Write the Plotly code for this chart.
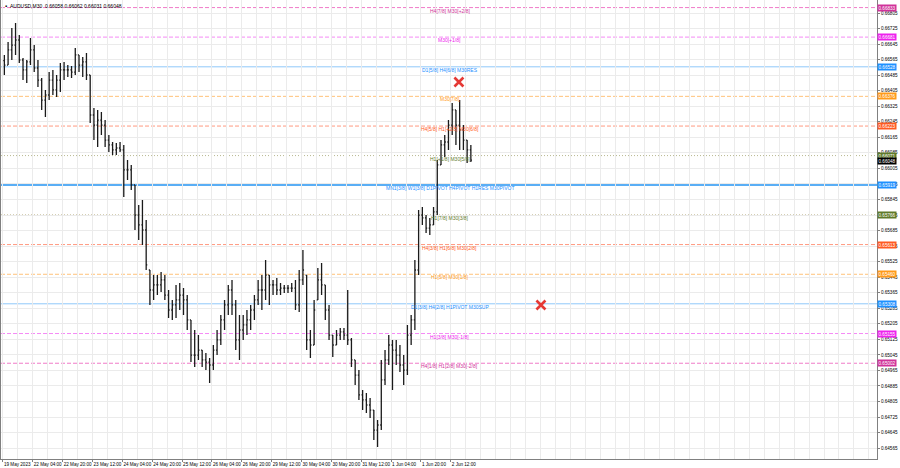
import plotly.graph_objects as go

# ---------------- data ----------------
# 2-hour buckets of AUDUSD M30 price, starting 19 May 2023 12:00 (4 M30 bars per bucket)
high = [0.66589, 0.66656, 0.66728, 0.66754, 0.66692, 0.66573, 0.66563, 0.66676, 0.66640, 0.66563,
        0.66470, 0.66409, 0.66501, 0.66512, 0.66486, 0.66548, 0.66553, 0.66537, 0.66532, 0.66625,
        0.66589, 0.66579, 0.66599, 0.66486, 0.66316, 0.66306, 0.66295, 0.66254, 0.66177, 0.66141,
        0.66136, 0.66141, 0.66126, 0.66048, 0.66023, 0.65920, 0.65817, 0.65842, 0.65739, 0.65482,
        0.65456, 0.65456, 0.65472, 0.65456, 0.65379, 0.65328, 0.65405, 0.65415, 0.65389, 0.65353,
        0.65225, 0.65173, 0.65147, 0.65070, 0.65055, 0.65029, 0.65096, 0.65173, 0.65250, 0.65328,
        0.65405, 0.65431, 0.65328, 0.65250, 0.65250, 0.65276, 0.65302, 0.65353, 0.65431, 0.65456,
        0.65534, 0.65456, 0.65431, 0.65441, 0.65415, 0.65405, 0.65405, 0.65415, 0.65431, 0.65482,
        0.65585, 0.65456, 0.65173, 0.65328, 0.65492, 0.65518, 0.65405, 0.65302, 0.65147, 0.65173,
        0.65183, 0.65183, 0.65379, 0.65132, 0.65019, 0.64967, 0.64864, 0.64849, 0.64823, 0.64761,
        0.64710, 0.65019, 0.65070, 0.65147, 0.65122, 0.65122, 0.65096, 0.65044, 0.65199, 0.65250,
        0.65534, 0.65791, 0.65806, 0.65765, 0.65750, 0.65806, 0.66048, 0.66151, 0.66177, 0.66254,
        0.66342, 0.66306, 0.66357, 0.66228, 0.66151, 0.66126]
low = [0.66486, 0.66537, 0.66563, 0.66589, 0.66548, 0.66460, 0.66445, 0.66537, 0.66501, 0.66424,
       0.66306, 0.66270, 0.66357, 0.66383, 0.66373, 0.66398, 0.66460, 0.66476, 0.66470, 0.66486,
       0.66501, 0.66476, 0.66460, 0.66239, 0.66151, 0.66115, 0.66177, 0.66115, 0.66090, 0.66074,
       0.66074, 0.66090, 0.65858, 0.65945, 0.65894, 0.65688, 0.65636, 0.65611, 0.65482, 0.65302,
       0.65328, 0.65353, 0.65369, 0.65328, 0.65235, 0.65225, 0.65235, 0.65276, 0.65250, 0.65173,
       0.65008, 0.64983, 0.65019, 0.64983, 0.64967, 0.64900, 0.64967, 0.65044, 0.65096, 0.65173,
       0.65250, 0.65250, 0.65070, 0.65019, 0.65122, 0.65147, 0.65173, 0.65225, 0.65302, 0.65276,
       0.65328, 0.65302, 0.65353, 0.65353, 0.65353, 0.65364, 0.65364, 0.65369, 0.65276, 0.65266,
       0.65405, 0.65070, 0.65029, 0.65096, 0.65328, 0.65353, 0.65225, 0.65122, 0.65034, 0.65096,
       0.65122, 0.65122, 0.65096, 0.64983, 0.64890, 0.64813, 0.64761, 0.64746, 0.64720, 0.64607,
       0.64571, 0.64658, 0.64890, 0.64993, 0.64864, 0.64993, 0.64957, 0.64890, 0.64941, 0.65096,
       0.65173, 0.65456, 0.65714, 0.65673, 0.65662, 0.65714, 0.65765, 0.66023, 0.66064, 0.66100,
       0.66177, 0.66126, 0.66100, 0.66100, 0.66033, 0.66038]
close = [0.66537, 0.66615, 0.66640, 0.66666, 0.66563, 0.66512, 0.66553, 0.66615, 0.66522, 0.66460,
         0.66357, 0.66383, 0.66460, 0.66409, 0.66460, 0.66512, 0.66512, 0.66512, 0.66501, 0.66589,
         0.66537, 0.66553, 0.66486, 0.66280, 0.66228, 0.66254, 0.66228, 0.66151, 0.66126, 0.66100,
         0.66110, 0.66100, 0.65997, 0.65997, 0.65920, 0.65765, 0.65714, 0.65688, 0.65508, 0.65379,
         0.65405, 0.65405, 0.65431, 0.65353, 0.65276, 0.65302, 0.65328, 0.65353, 0.65328, 0.65225,
         0.65044, 0.65044, 0.65070, 0.65019, 0.65008, 0.64993, 0.65070, 0.65122, 0.65225, 0.65302,
         0.65379, 0.65302, 0.65122, 0.65173, 0.65199, 0.65225, 0.65276, 0.65328, 0.65379, 0.65379,
         0.65456, 0.65405, 0.65405, 0.65379, 0.65389, 0.65389, 0.65389, 0.65389, 0.65302, 0.65431,
         0.65482, 0.65122, 0.65096, 0.65276, 0.65431, 0.65405, 0.65276, 0.65147, 0.65096, 0.65147,
         0.65163, 0.65147, 0.65122, 0.65019, 0.64941, 0.64839, 0.64813, 0.64787, 0.64761, 0.64658,
         0.64684, 0.64916, 0.65019, 0.65096, 0.65070, 0.65044, 0.64993, 0.64967, 0.65147, 0.65225,
         0.65482, 0.65765, 0.65750, 0.65698, 0.65714, 0.65781, 0.66023, 0.66126, 0.66141, 0.66228,
         0.66306, 0.66228, 0.66203, 0.66151, 0.66100, 0.66048]
first_open = 0.66560

# x-axis time labels (every 32 M30 bars)
time_labels = ["19 May 2023", "22 May 04:00", "22 May 20:00", "23 May 12:00", "24 May 04:00",
               "24 May 20:00", "25 May 12:00", "26 May 04:00", "26 May 20:00", "29 May 12:00",
               "30 May 04:00", "30 May 20:00", "31 May 12:00", "1 Jun 04:00", "1 Jun 20:00",
               "2 Jun 12:00"]
price_ticks = [0.66805, 0.66725, 0.66645, 0.66565, 0.66485, 0.66405, 0.66325, 0.66245, 0.66165,
               0.66085, 0.66005, 0.65925, 0.65845, 0.65765, 0.65685, 0.65605, 0.65525, 0.65445,
               0.65365, 0.65285, 0.65205, 0.65125, 0.65045, 0.64965, 0.64885, 0.64805, 0.64725,
               0.64645, 0.64565]

# Murrey-style level lines
level_values = [0.66833, 0.66681, 0.66528, 0.66376, 0.66223, 0.66071, 0.65919, 0.65766,
                0.65613, 0.65460, 0.65308, 0.65155, 0.65002]
level_names = ["H4[7/8] M30[+2/8]", "M30[+1/8]", "D1[5/8] H4[6/8] M30RES", "M30[7/8]",
               "H4[5/8] H1[+2/8] M30[6/8]", "H1[+1/8] M30[5/8]",
               "MN1[3/8] W1[3/8] D1PIVOT H4PIVOT H1RES M30PIVOT", "H1[7/8] M30[3/8]",
               "H4[3/8] H1[6/8] M30[2/8]", "H1[5/8] M30[1/8]", "D1[3/8] H4[2/8] H1PIVOT M30SUP",
               "H1[3/8] M30[-1/8]", "H4[1/8] H1[2/8] M30[-2/8]"]
level_colors = ["#d0329a", "#ee22ee", "#1e90ff", "#ff9a1a", "#ff5a22", "#5f7a2a", "#1e90ff",
                "#5f7a2a", "#ff5a22", "#ff9a1a", "#1e90ff", "#ee22ee", "#d0329a"]
level_line_colors = ["#f07ac8", "#f58af5", "#8fc8fa", "#ffc27a", "#ff9a80", "#b8b890", "#5aaef5",
                     "#c0b890", "#ff9a80", "#ffc27a", "#8fc8fa", "#f58af5", "#f07ac8"]
level_dash = ["4px,2px", "4px,2px", "solid", "4px,2px", "4px,2px", "1px,2px", "solid",
              "1px,2px", "4px,2px", "4px,2px", "solid", "4px,2px", "4px,2px"]
level_width = [1, 1, 1, 1, 1, 1, 2, 1, 1, 1, 1, 1, 1]

current_price = 0.66048
title_text = "AUDUSD,M30  0.66058 0.66062 0.66031 0.66048"

# red cross marks (bar index, price)
cross_x = [488.7, 576.6]
cross_y = [0.66450, 0.65302]

# ---------------- figure ----------------
BARS_PER_BUCKET = 4
n = len(close)
xb = [i * BARS_PER_BUCKET + 1.5 for i in range(n)]
opens = [first_open] + close[:-1]
opens = [min(max(o, lo), hi) for o, lo, hi in zip(opens, low, high)]

fig = go.Figure()
fig.add_trace(go.Ohlc(x=xb, open=opens, high=high, low=low, close=close,
                      increasing=dict(line=dict(color="#1a1a1a", width=1.3)),
                      decreasing=dict(line=dict(color="#1a1a1a", width=1.3)),
                      tickwidth=0.3, hoverinfo="skip", showlegend=False))

for v, c, d, w in zip(level_values, level_line_colors, level_dash, level_width):
    fig.add_hline(y=v, line=dict(color=c, dash=d, width=w), layer="below")

label_x = 479
for v, name, c in zip(level_values, level_names, level_colors):
    fig.add_annotation(x=label_x, y=v, text=name, showarrow=False, xanchor="center",
                       yanchor="middle", yshift=-3, font=dict(size=5, color=c, family="Arial"))
    fig.add_annotation(xref="paper", x=1, y=v, text=f"{v:.5f}", showarrow=False,
                       xanchor="left", yanchor="middle", bgcolor=c, borderpad=0.5,
                       font=dict(size=4.6, color="white", family="Arial"))

fig.add_annotation(xref="paper", x=1, y=current_price, text=f"{current_price:.5f}",
                   showarrow=False, xanchor="left", yanchor="middle", yshift=-1,
                   bgcolor="#000000", borderpad=0.5,
                   font=dict(size=4.6, color="white", family="Arial"))

fig.add_trace(go.Scatter(x=cross_x, y=cross_y, mode="markers", hoverinfo="skip",
                         showlegend=False,
                         marker=dict(symbol="x-thin", size=9,
                                     line=dict(color="#e53935", width=2.6))))

fig.add_annotation(xref="paper", yref="paper", x=0.008, y=1, yanchor="top", xanchor="left",
                   yshift=-1, text=title_text, showarrow=False,
                   font=dict(size=5, color="#000000", family="Arial"))
fig.add_annotation(xref="paper", yref="paper", x=0.002, y=1, yanchor="top", xanchor="left",
                   yshift=-1, text="▪", showarrow=False,
                   font=dict(size=6, color="#000000", family="Arial"))

tick_x = [32 * i for i in range(len(time_labels))]
fig.update_xaxes(range=[-2.1, 936.8], tickmode="array", tickvals=tick_x, ticktext=time_labels,
                 tickangle=0, automargin=False,
                 ticklabelposition="outside right", ticks="outside", ticklen=2,
                 tickcolor="#808080", tickfont=dict(size=4.6, color="#000000", family="Arial"),
                 showgrid=False, zeroline=False, showline=True, linecolor="#808080",
                 linewidth=1, mirror=True, rangeslider=dict(visible=False),
                 minor=dict(tickmode="linear", tick0=0, dtick=16, showgrid=True,
                            gridcolor="#ebebeb", gridwidth=1))
fig.update_yaxes(range=[0.64509, 0.66872], side="right", tickmode="array", automargin=False,
                 tickvals=price_ticks, ticktext=[f"{t:.5f}" for t in price_ticks],
                 ticks="outside", ticklen=2, tickcolor="#808080",
                 tickfont=dict(size=4.6, color="#000000", family="Arial"),
                 showgrid=True, gridcolor="#ebebeb", gridwidth=1, zeroline=False,
                 showline=True, linecolor="#808080", linewidth=1, mirror=True)

fig.update_layout(width=900, height=468, margin=dict(l=1, r=23, t=0, b=9),
                  plot_bgcolor="white", paper_bgcolor="white", showlegend=False)

fig.write_html("out.html", config={"displayModeBar": False},
               post_script="document.body.style.margin='0';document.body.style.overflow='hidden';")
